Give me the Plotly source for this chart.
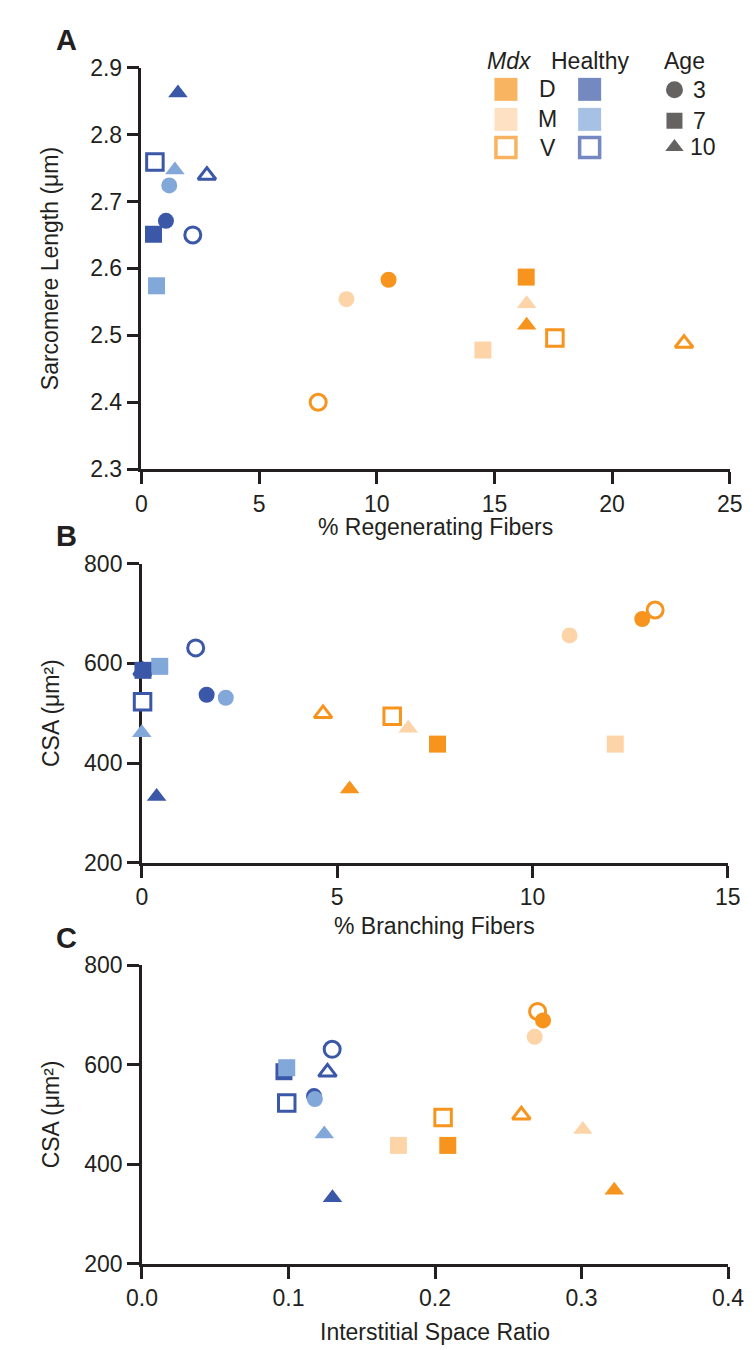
import plotly.graph_objects as go

W, H = 754, 1350

# ---------------- data (order: Mdx D, Mdx M, Mdx V, Healthy D, Healthy M, Healthy V; ages 3,7,10) ----
strain = ["Mdx"] * 9 + ["Healthy"] * 9
muscle = (["D"] * 3 + ["M"] * 3 + ["V"] * 3) * 2
age = [3, 7, 10] * 6

regenerating_pct = [10.50, 16.35, 16.37, 8.71, 14.51, 16.37, 7.51, 17.57, 23.06,
                    1.04, 0.51, 1.55, 1.18, 0.64, 1.42, 2.18, 0.57, 2.78]
sarcomere_um = [2.583, 2.587, 2.515, 2.554, 2.478, 2.547, 2.400, 2.496, 2.488,
                2.671, 2.651, 2.862, 2.724, 2.574, 2.747, 2.650, 2.759, 2.739]
branching_pct = [12.81, 7.57, 5.32, 10.95, 12.12, 6.82, 13.14, 6.41, 4.64,
                 1.66, 0.03, 0.38, 2.15, 0.46, 0.00, 1.38, 0.02, 0.02]
csa_um2 = [689, 438, 348, 656, 438, 470, 707, 494, 499,
           537, 586, 333, 531, 594, 461, 631, 523, 585]
interstitial_ratio = [0.2737, 0.2087, 0.3223, 0.2680, 0.1750, 0.3009, 0.2700, 0.2055, 0.2589,
                      0.1174, 0.0969, 0.1300, 0.1180, 0.0988, 0.1244, 0.1298, 0.0988, 0.1266]

# ---------------- style ----------------
ORANGE = "#F7941E"
PEACH = "#FDD4A8"
BLUE = "#3B57A7"
LIGHTBLUE = "#82A7D9"
INK = "#231F20"
FONT = "Liberation Sans, Arial, sans-serif"
FS = 23

GROUP_STYLE = {
    ("Mdx", "D"): (ORANGE, ORANGE, 0),
    ("Mdx", "M"): (PEACH, PEACH, 0),
    ("Mdx", "V"): ("white", ORANGE, 3),
    ("Healthy", "D"): (BLUE, BLUE, 0),
    ("Healthy", "M"): (LIGHTBLUE, LIGHTBLUE, 0),
    ("Healthy", "V"): ("white", BLUE, 3),
}
AGE_SYMBOL = {3: "circle", 7: "square", 10: "triangle-up"}
FILLED_SIZE = {3: 16, 7: 17, 10: 17}
OPEN_SIZE = {3: 16, 7: 16.5, 10: 15.5}

panels = [
    dict(x=regenerating_pct, y=sarcomere_um, xr=[0, 25], yr=[2.3, 2.9], xd=5, yd=0.1,
         xfmt="d", yfmt=".1f", box=(122.7, 737.0, 47.5, 457.0), title_gap=59,
         xtitle="% Regenerating Fibers", ytitle="Sarcomere Length (μm)", letter="A",
         order=[("Healthy", "V"), ("Healthy", "M"), ("Healthy", "D"),
                ("Mdx", "M"), ("Mdx", "D"), ("Mdx", "V")]),
    dict(x=branching_pct, y=csa_um2, xr=[0, 15], yr=[200, 800], xd=5, yd=200,
         xfmt="d", yfmt="d", box=(123.0, 735.0, 553.3, 858.3), title_gap=64,
         xtitle="% Branching Fibers", ytitle="CSA (μm²)", letter="B",
         order=[("Healthy", "V"), ("Healthy", "M"), ("Healthy", "D"),
                ("Mdx", "M"), ("Mdx", "D"), ("Mdx", "V")]),
    dict(x=interstitial_ratio, y=csa_um2, xr=[0, 0.4], yr=[200, 800], xd=0.1, yd=200,
         xfmt=".1f", yfmt="d", box=(123.2, 735.3, 962.7, 1267.3), title_gap=69,
         xtitle="Interstitial Space Ratio", ytitle="CSA (μm²)", letter="C",
         order=[("Healthy", "V"), ("Healthy", "D"), ("Healthy", "M"),
                ("Mdx", "V"), ("Mdx", "D"), ("Mdx", "M")]),
]

fig = go.Figure()
layout = dict(
    width=W, height=H, margin=dict(l=0, r=0, t=0, b=0),
    paper_bgcolor="white", plot_bgcolor="rgba(0,0,0,0)",
    showlegend=False, font=dict(family=FONT, size=FS, color=INK),
)
annotations = []


def txt(x, y, t, xanchor="center", size=FS, angle=0, **font):
    annotations.append(dict(x=x, y=y, xref="x4", yref="y4", text=t, showarrow=False,
                            xanchor=xanchor, yanchor="middle", textangle=angle,
                            font=dict(size=size, color=INK, family=FONT, **font)))


for i, p in enumerate(panels, start=1):
    sfx = "" if i == 1 else str(i)
    xa, ya = "x" + sfx, "y" + sfx
    x0, x1, y0, y1 = p["box"]
    for grp in p["order"]:
        idx = [k for k in range(len(age)) if (strain[k], muscle[k]) == grp]
        fill, line, lw = GROUP_STYLE[grp]
        sizes = [(OPEN_SIZE if lw else FILLED_SIZE)[age[k]] for k in idx]
        fig.add_trace(go.Scatter(
            x=[p["x"][k] for k in idx], y=[p["y"][k] for k in idx],
            xaxis=xa, yaxis=ya, mode="markers", cliponaxis=False, hoverinfo="skip",
            marker=dict(symbol=[AGE_SYMBOL[age[k]] for k in idx], size=sizes,
                        color=fill, line=dict(color=line, width=lw), opacity=1),
        ))
    common = dict(showline=True, linewidth=2.5, linecolor=INK, ticks="outside",
                  ticklen=12, tickwidth=2.5, tickcolor=INK, showgrid=False,
                  zeroline=False, layer="below traces", tickmode="linear",
                  tickfont=dict(family=FONT, size=FS, color=INK), fixedrange=True)
    layout["xaxis" + sfx] = dict(common, domain=[x0 / W, x1 / W], range=p["xr"],
                                 tick0=p["xr"][0], dtick=p["xd"], tickformat=p["xfmt"],
                                 anchor=ya)
    layout["yaxis" + sfx] = dict(common, domain=[1 - y1 / H, 1 - y0 / H], range=p["yr"],
                                 tick0=p["yr"][0], dtick=p["yd"], tickformat=p["yfmt"],
                                 anchor=xa)
    # axis titles and panel letters (pixel positions on the overlay axis)
    txt((x0 + x1) / 2, y1 + p["title_gap"], p["xtitle"])
    txt(28, (y0 + y1) / 2, p["ytitle"], angle=-90)
    txt(44, y0 - 28, p["letter"], size=29, weight="bold")

# ---------------- legend (drawn on a full-figure overlay axis in pixel units) ----------------
layout["xaxis4"] = dict(domain=[0, 1], range=[0, W], visible=False, fixedrange=True, anchor="y4")
layout["yaxis4"] = dict(domain=[0, 1], range=[H, 0], visible=False, fixedrange=True, anchor="x4")

legend_rows = [69.7, 100.3, 129.0]
legend_muscles = ["D", "M", "V"]
for sname, cx in (("Mdx", 503.3), ("Healthy", 590.7)):
    fills, lines, lws, sz = [], [], [], []
    for m in legend_muscles:
        f, l, w = GROUP_STYLE[(sname, m)]
        fills.append(f); lines.append(l); lws.append(3.5 if w else 0); sz.append(20 if w else 23)
    fig.add_trace(go.Scatter(x=[cx] * 3, y=legend_rows, xaxis="x4", yaxis="y4",
                             mode="markers", hoverinfo="skip", cliponaxis=False,
                             marker=dict(symbol="square", size=sz, color=fills,
                                         line=dict(color=lines, width=lws))))
age_keys = [3, 7, 10]
age_rows = [70.0, 101.7, 128.5]
fig.add_trace(go.Scatter(x=[679.3] * 3, y=age_rows, xaxis="x4", yaxis="y4",
                         mode="markers", hoverinfo="skip", cliponaxis=False,
                         marker=dict(symbol=[AGE_SYMBOL[a] for a in age_keys],
                                     size=[17, 16, 16], color=INK, line=dict(width=0))))

txt(506.7, 40.7, "Mdx", style="italic")
txt(590.7, 40.7, "Healthy")
txt(689.3, 40.7, "Age")
for m, yy in zip(legend_muscles, legend_rows):
    txt(547, yy, m)
for a, yy, xx in zip(age_keys, age_rows, [697, 697, 693]):
    txt(xx, yy, str(a), xanchor="left")

layout["annotations"] = annotations
fig.update_layout(**layout)
fig.write_html("out.html")
